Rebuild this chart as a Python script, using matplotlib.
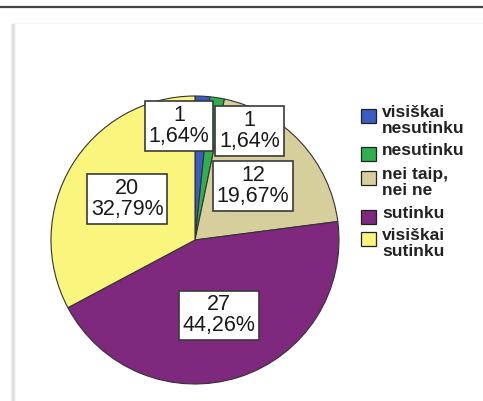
import matplotlib
matplotlib.use('Agg')
import matplotlib.pyplot as plt
from matplotlib.patches import Rectangle
from matplotlib.lines import Line2D
import numpy as np

categories = ['visiškai\nnesutinku', 'nesutinku', 'nei taip,\nnei ne', 'sutinku', 'visiškai\nsutinku']
counts = [1, 1, 12, 27, 20]
percent_labels = ['1,64%', '1,64%', '19,67%', '44,26%', '32,79%']
colors = ['#3B5CC0', '#2EB04F', '#D6CF9C', '#7E287E', '#F9F57D']

W, H = 483, 401
fig = plt.figure(figsize=(W / 100, H / 100), dpi=100)
fig.patch.set_facecolor('white')


def fx(px):
    return px / W


def fy(py):
    return 1 - py / H


# outer frame: top rule and panel shadow
fig.add_artist(Line2D([0, 1], [fy(6.5)] * 2, color='#444444', lw=1.6))
for i, c in enumerate(['#f0f0f0', '#e4e4e4', '#d8d8d8', '#e8e8e8']):
    fig.add_artist(Line2D([fx(10.5 + i)] * 2, [fy(24), 0], color=c, lw=1.0))
fig.add_artist(Line2D([fx(14), 1], [fy(22.5)] * 2, color='#f5f5f5', lw=1.0))

# pie
cx, cy, R = 195, 240, 144
half = 152
ax = fig.add_axes([fx(cx - half), fy(cy + half), 2 * half / W, 2 * half / H])
wedges, _ = ax.pie(counts, colors=colors, startangle=90, counterclock=False,
                   radius=1, wedgeprops=dict(edgecolor='#333333', linewidth=0.8),
                   frame=False)
ax.set_xlim(-half / R, half / R)
ax.set_ylim(-half / R, half / R)
ax.set_aspect('equal')
ax.axis('off')

# label positions: small slices shifted apart, others at mid-angle
small_offsets = {0: (-0.11, 0.79), 1: (0.38, 0.755)}
for i, w in enumerate(wedges):
    if i in small_offsets:
        x, y = small_offsets[i]
    else:
        th = np.deg2rad((w.theta1 + w.theta2) / 2)
        x, y = 0.55 * np.cos(th), 0.55 * np.sin(th)
    ax.text(x, y, f'{counts[i]}\n{percent_labels[i]}', ha='center', va='center',
            fontsize=15.5, family='Liberation Sans', color='#1a1a1a', linespacing=1.0,
            bbox=dict(boxstyle='square,pad=0.18', facecolor='white',
                      edgecolor='#3a3a3a', linewidth=1.2), zorder=5)

# legend (manual)
tops = [107, 145, 169, 208, 230]
for lab, col, t in zip(categories, colors, tops):
    fig.add_artist(Rectangle((fx(361), fy(t + 16)), 15 / W, 14 / H, facecolor=col,
                             edgecolor='#222222', linewidth=0.9,
                             transform=fig.transFigure))
    fig.text(fx(382), fy(t - 2), lab, ha='left', va='top', fontsize=12.5,
             fontweight='bold', family='Liberation Sans', color='#222222',
             linespacing=1.05)

fig.savefig('out.png', dpi=100, facecolor='white')
